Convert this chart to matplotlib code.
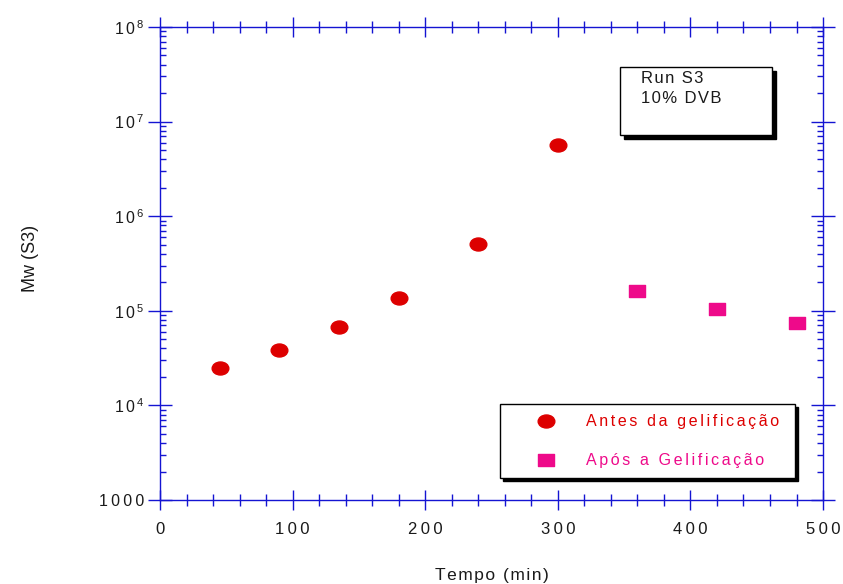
import matplotlib.pyplot as plt
import numpy as np
from matplotlib.path import Path
from matplotlib.patches import Rectangle
from matplotlib.ticker import FixedLocator, FuncFormatter, LogLocator, NullFormatter

plt.rcParams['font.family'] = ['Liberation Sans', 'DejaVu Sans']
plt.rcParams['mathtext.fontset'] = 'custom'
plt.rcParams['mathtext.rm'] = 'Liberation Sans'

# Mw vs reaction time, run S3
t_before = [45, 90, 135, 180, 240, 300]
mw_before = [2.48e4, 3.85e4, 6.75e4, 1.37e5, 5.08e5, 5.66e6]
t_after = [360, 420, 480]
mw_after = [1.62e5, 1.04e5, 7.43e4]

x_ticks = [0, 100, 200, 300, 400, 500]
y_ticks = [1e3, 1e4, 1e5, 1e6, 1e7, 1e8]

AXIS = '#1414d2'
RED = '#dd0000'
PINK = '#ee0a8a'
INK = '#1a1a1a'

def spaced(s, sep='\u200a'):
    # loose letter spacing
    return sep.join(s)

# slightly flattened markers
ellipse = Path(Path.unit_circle().vertices * [1.0, 0.78], Path.unit_circle().codes)
box = Path([(-1, -0.8), (1, -0.8), (1, 0.8), (-1, 0.8), (-1, -0.8)],
           [Path.MOVETO, Path.LINETO, Path.LINETO, Path.LINETO, Path.CLOSEPOLY])

fig = plt.figure(figsize=(8.43, 5.84), dpi=100)
ax = fig.add_axes([0.1898, 0.1438, 0.7865, 0.8100])

ax.plot(t_before, mw_before, linestyle='none', marker=ellipse, markersize=12,
        color=RED, label=spaced('Antes da gelificação', '\u2006'))
ax.plot(t_after, mw_after, linestyle='none', marker=box, markersize=11.5,
        color=PINK, label=spaced('Após a Gelificação', '\u2006'))

ax.set_yscale('log')
ax.set_xlim(0, 500)
ax.set_ylim(1e3, 1e8)

ax.xaxis.set_major_locator(FixedLocator(x_ticks))
ax.xaxis.set_minor_locator(FixedLocator(np.arange(0, 501, 20)))
ax.yaxis.set_major_locator(FixedLocator(y_ticks))
ax.yaxis.set_minor_locator(LogLocator(base=10, subs=np.arange(2, 10)))
ax.yaxis.set_minor_formatter(NullFormatter())

def ylab(v, pos):
    e = int(round(np.log10(v)))
    if e == 3:
        return spaced('1000', '\u2009')
    return r'$\mathregular{1\,0^{\,%d}}$' % e

ax.yaxis.set_major_formatter(FuncFormatter(ylab))
ax.xaxis.set_major_formatter(FuncFormatter(lambda v, p: spaced('%d' % v, '\u2009')))

for s in ax.spines.values():
    s.set_color(AXIS)
    s.set_linewidth(1.0)

ax.tick_params(axis='both', which='both', colors=AXIS, labelcolor=INK,
               top=True, right=True, width=1.0)
ax.tick_params(axis='y', which='major', direction='inout', length=17, pad=3, labelsize=11.5)
ax.tick_params(axis='y', which='minor', direction='in', length=4.5)
ax.tick_params(axis='x', which='major', direction='inout', length=14, pad=9, labelsize=12)
ax.tick_params(axis='x', which='minor', direction='inout', length=8)

ax.set_xlabel(spaced('Tempo (min)'), fontsize=12.5, color=INK, labelpad=22)
ax.set_ylabel('Mw (S3)', fontsize=13, color=INK)
ax.yaxis.set_label_coords(-0.182, 0.51)

# annotation box with hard shadow
ax.add_patch(Rectangle((0.700, 0.764), 0.229, 0.144, transform=ax.transAxes,
                       facecolor='black', edgecolor='black', zorder=4))
ax.add_patch(Rectangle((0.694, 0.772), 0.229, 0.144, transform=ax.transAxes,
                       facecolor='white', edgecolor='black', linewidth=1.0, zorder=5))
ax.text(0.726, 0.906, spaced('Run S3') + '\n' + spaced('10% DVB'), transform=ax.transAxes,
        fontsize=12, va='top', ha='left', linespacing=1.4, color=INK, zorder=6)

leg = ax.legend(loc='lower left', bbox_to_anchor=(0.513, 0.046, 0.445, 0.165),
                mode='expand', prop={'size': 11.5}, frameon=True, fancybox=False,
                shadow={'color': 'black', 'alpha': 1.0}, edgecolor='black',
                borderpad=0.63, labelspacing=1.5, handletextpad=0.26,
                handlelength=4.5, borderaxespad=0)
leg.get_frame().set_linewidth(1.0)
for txt, c in zip(leg.get_texts(), [RED, PINK]):
    txt.set_color(c)

fig.savefig('out.png', dpi=100)
